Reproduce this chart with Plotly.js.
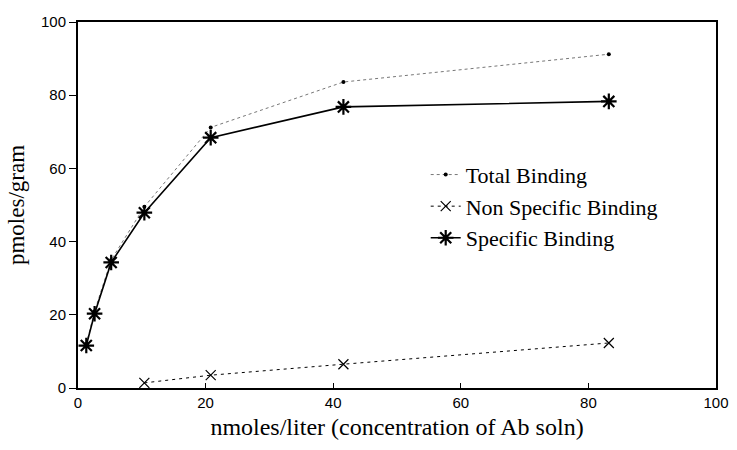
<!DOCTYPE html>
<html>
<head>
<meta charset="utf-8">
<script src="https://cdn.plot.ly/plotly-3.0.1.min.js"></script>
<style>html,body{margin:0;padding:0;background:#fff;}#chart{width:737px;height:450px;}</style>
</head>
<body>
<div id="chart"></div>
<script>
const concTotal = [1.3, 2.6, 5.2, 10.4, 20.8, 41.6, 83.2];
const totalBinding = [12.0, 21.0, 35.0, 49.5, 71.2, 83.6, 91.2];
const concNonSpecific = [10.4, 20.8, 41.6, 83.2];
const nonSpecificBinding = [1.4, 3.5, 6.5, 12.3];
const concSpecific = [1.3, 2.6, 5.2, 10.4, 20.8, 41.6, 83.2];
const specificBinding = [11.6, 20.3, 34.3, 47.9, 68.4, 76.8, 78.3];
const seriesNames = ["Total Binding", "Non Specific Binding", "Specific Binding"];
const xTickVals = [0, 20, 40, 60, 80, 100];
const yTickVals = [0, 20, 40, 60, 80, 100];

const serif = "Liberation Serif, Times New Roman, serif";
const sans = "Liberation Sans, Arial, sans-serif";

const traces = [
  {x: concTotal, y: totalBinding, name: seriesNames[0], mode: "lines+markers",
   line: {color: "#777", width: 1, dash: "dot"},
   marker: {symbol: "circle", size: 4, color: "#000"}},
  {x: concNonSpecific, y: nonSpecificBinding, name: seriesNames[1], mode: "lines+markers",
   line: {color: "#000", width: 1, dash: "3px,4px"},
   marker: {symbol: "x-thin-open", size: 10, line: {color: "#000", width: 1.2}}},
  {x: concSpecific, y: specificBinding, name: seriesNames[2], mode: "lines+markers",
   line: {color: "#000", width: 1.6},
   marker: {symbol: "asterisk-open", size: 13, line: {color: "#000", width: 2.2}}}
];

const layout = {
  width: 737, height: 450,
  margin: {l: 78, r: 21, t: 22, b: 62},
  paper_bgcolor: "#fff", plot_bgcolor: "#fff",
  showlegend: true,
  legend: {x: 0.545, y: 0.64, xanchor: "left", yanchor: "top",
    font: {family: serif, size: 22, color: "#000"}, bgcolor: "rgba(0,0,0,0)",
    itemwidth: 30, tracegroupgap: 0},
  xaxis: {range: [0, 100], tickvals: xTickVals, ticktext: xTickVals.map(String),
    showgrid: false, zeroline: false, showline: true, linecolor: "#000", linewidth: 2,
    mirror: true, ticks: "inside", ticklen: 5, tickcolor: "#000", tickwidth: 1,
    tickfont: {family: sans, size: 15, color: "#000"},
    title: {text: "nmoles/liter (concentration of Ab soln)", font: {family: serif, size: 24, color: "#000"}, standoff: 8}},
  yaxis: {range: [0, 100], tickvals: yTickVals, ticktext: yTickVals.map(String),
    showgrid: false, zeroline: false, showline: true, linecolor: "#000", linewidth: 2,
    mirror: true, ticks: "outside", ticklen: 7, tickcolor: "#000", tickwidth: 1,
    tickfont: {family: sans, size: 15, color: "#000"},
    title: {text: "pmoles/gram", font: {family: serif, size: 23, color: "#000"}, standoff: 10}}
};

Plotly.newPlot("chart", traces, layout, {displayModeBar: false, staticPlot: true});
</script>
</body>
</html>
